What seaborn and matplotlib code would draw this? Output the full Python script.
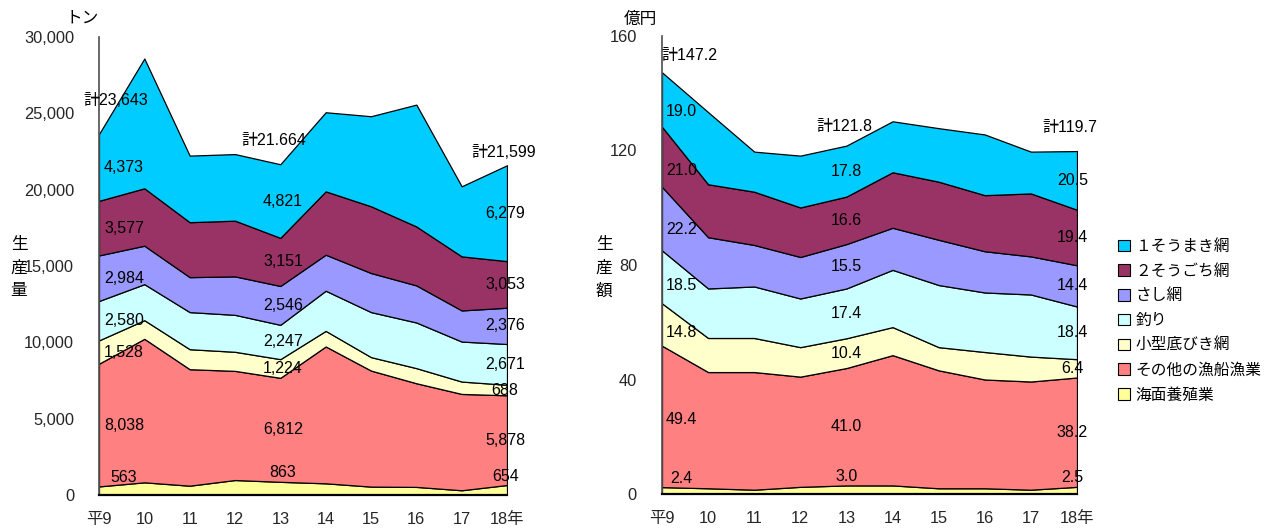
import numpy as np
import matplotlib
matplotlib.use("Agg")
import matplotlib.pyplot as plt
from matplotlib.patches import Patch
from matplotlib.ticker import FuncFormatter
import seaborn as sns

# ---- data -------------------------------------------------------------
years = ["平9", "10", "11", "12", "13", "14", "15", "16", "17", "18年"]
series_names = ["１そうまき網", "２そうごち網", "さし網", "釣り",
                "小型底びき網", "その他の漁船漁業", "海面養殖業"]

# production volume (t)
vol_1sou = [4373, 8500, 4360, 4360, 4821, 5180, 5900, 7980, 4590, 6279]
vol_2sou = [3577, 3760, 3600, 3650, 3151, 4150, 4370, 3860, 3540, 3053]
vol_sashi = [2984, 2520, 2290, 2520, 2546, 2360, 2560, 2430, 2040, 2376]
vol_tsuri = [2580, 2360, 2430, 2420, 2247, 2630, 2950, 2990, 2620, 2671]
vol_kogata = [1528, 1220, 1310, 1250, 1224, 1020, 880, 990, 810, 688]
vol_sonota = [8038, 9400, 7630, 7150, 6812, 8965, 7600, 6790, 6310, 5878]
vol_yoshoku = [563, 830, 610, 980, 863, 765, 550, 530, 310, 654]
vol_total_text = ["計23,643", "計21.664", "計21,599"]

# production value (100 million yen)
val_1sou = [19.0, 25.2, 14.0, 18.1, 17.8, 17.8, 18.7, 21.2, 14.6, 20.5]
val_2sou = [21.0, 18.5, 18.6, 17.3, 16.6, 19.4, 20.3, 19.6, 22.0, 19.4]
val_sashi = [22.2, 17.9, 14.5, 14.5, 15.5, 14.7, 15.8, 14.4, 13.3, 14.4]
val_tsuri = [18.5, 17.3, 18.0, 17.0, 17.4, 20.0, 21.7, 20.8, 21.7, 18.4]
val_kogata = [14.8, 11.9, 11.9, 10.3, 10.4, 9.8, 8.1, 9.6, 8.7, 6.4]
val_sonota = [49.4, 40.6, 41.1, 38.5, 41.0, 45.5, 41.2, 38.0, 37.8, 38.2]
val_yoshoku = [2.4, 2.0, 1.5, 2.5, 3.0, 3.0, 2.0, 2.0, 1.5, 2.5]
val_total = [147.2, 121.8, 119.7]

labeled_years = [0, 4, 9]

colors = ["#00CCFF", "#993366", "#9999FF", "#CCFFFF",
          "#FFFFCC", "#FF8080", "#FFFF99"]

# ---- style ------------------------------------------------------------
sns.set_theme(style="white")
FONT = ["Liberation Sans", "Noto Sans CJK JP"]
plt.rcParams["font.family"] = FONT
plt.rcParams["text.color"] = "black"

LBL = 11.5

fig = plt.figure(figsize=(12.67, 5.30), dpi=100)
ax1 = fig.add_axes([99 / 1267, 35 / 530, 408 / 1267, 458 / 530])
ax2 = fig.add_axes([662 / 1267, 36 / 530, 415 / 1267, 458 / 530])

x = np.arange(len(years))


def draw_stack(ax, layers_top_first, ymax, ystep, fmt):
    layers = layers_top_first[::-1]           # stack from the bottom
    cols = colors[::-1]
    ax.stackplot(x, *[np.asarray(l, float) for l in layers], colors=cols,
                 edgecolor="black", linewidth=0.9)
    ax.set_xlim(0, len(years) - 1)
    ax.set_ylim(0, ymax)
    ax.set_yticks(np.arange(0, ymax + 1, ystep))
    ax.yaxis.set_major_formatter(FuncFormatter(fmt))
    ax.set_xticks(x)
    ax.set_xticklabels(years)
    for s in ("top", "right"):
        ax.spines[s].set_visible(False)
    ax.spines["left"].set_color("#555555")
    ax.spines["bottom"].set_color("black")
    ax.spines["bottom"].set_linewidth(1.6)
    ax.tick_params(axis="y", direction="out", length=6, width=1,
                   color="#555555", labelsize=11.8, pad=12)
    ax.tick_params(axis="x", direction="out", length=6, width=1,
                   color="black", labelsize=11.8, pad=6)
    ax.grid(False)
    ax.set_facecolor("none")
    return np.cumsum(np.array(layers, float), axis=0)


vol_layers = [vol_1sou, vol_2sou, vol_sashi, vol_tsuri,
              vol_kogata, vol_sonota, vol_yoshoku]
val_layers = [val_1sou, val_2sou, val_sashi, val_tsuri,
              val_kogata, val_sonota, val_yoshoku]

cum1 = draw_stack(ax1, vol_layers, 30000, 5000, lambda v, p: f"{int(v):,}")
cum2 = draw_stack(ax2, val_layers, 160, 40, lambda v, p: f"{int(v)}")


def band_labels(ax, layers_top_first, cum, idx, xpos, anchor, fmt, small_off):
    layers = layers_top_first[::-1]
    for k, vals in enumerate(layers):
        lo = np.interp(anchor, x, cum[k - 1]) if k > 0 else 0.0
        hi = np.interp(anchor, x, cum[k])
        text = fmt(vals[idx])
        if k == 0:
            ax.annotate(text, (xpos, hi), xytext=(0, small_off),
                        textcoords="offset points", ha="center",
                        va="bottom", fontsize=LBL)
        else:
            ax.text(xpos, (lo + hi) / 2, text, ha="center", va="center",
                    fontsize=LBL)


# left chart: volume labels
for j, (i, xp, tx, off) in enumerate(zip(labeled_years, [0.55, 4.06, 8.96],
                                         [0.38, 3.86, 8.92], [24, 17, 9])):
    band_labels(ax1, vol_layers, cum1, i, xp, i, lambda v: f"{v:,}", 1)
    ax1.annotate(vol_total_text[j], (tx, cum1[-1][i]), xytext=(0, off),
                 textcoords="offset points", ha="center", va="center",
                 fontsize=LBL)

# right chart: value labels
for j, (i, xp, anc, tx, off) in enumerate(zip(labeled_years, [0.42, 4.0, 8.9],
                                              [0.25, 4, 9], [0.6, 3.95, 8.85],
                                              [12, 14, 17])):
    band_labels(ax2, val_layers, cum2, i, xp, anc, lambda v: f"{v:.1f}", 1)
    ax2.annotate(f"計{val_total[j]:.1f}", (tx, cum2[-1][i]), xytext=(0, off),
                 textcoords="offset points", ha="center", va="center",
                 fontsize=LBL)

# units and axis titles
fig.text(82 / 1267, 1 - 18 / 530, "トン", ha="center", va="center", fontsize=12)
fig.text(640 / 1267, 1 - 19 / 530, "億円", ha="center", va="center", fontsize=12)
for xx, word in ((19, "生産量"), (604, "生産額")):
    for n, ch in enumerate(word):
        fig.text(xx / 1267, 1 - (245 + 23 * n) / 530, ch, ha="center",
                 va="center", fontsize=12)

handles = [Patch(facecolor=c, edgecolor="black", linewidth=0.8) for c in colors]
fig.legend(handles, series_names, loc="upper left",
           bbox_to_anchor=(1107 / 1267, 1 - 228 / 530), frameon=False,
           fontsize=11.3, handlelength=0.75, handleheight=0.75,
           handletextpad=0.35, labelspacing=0.62, borderpad=0.2)

fig.savefig("out.png", dpi=100)
